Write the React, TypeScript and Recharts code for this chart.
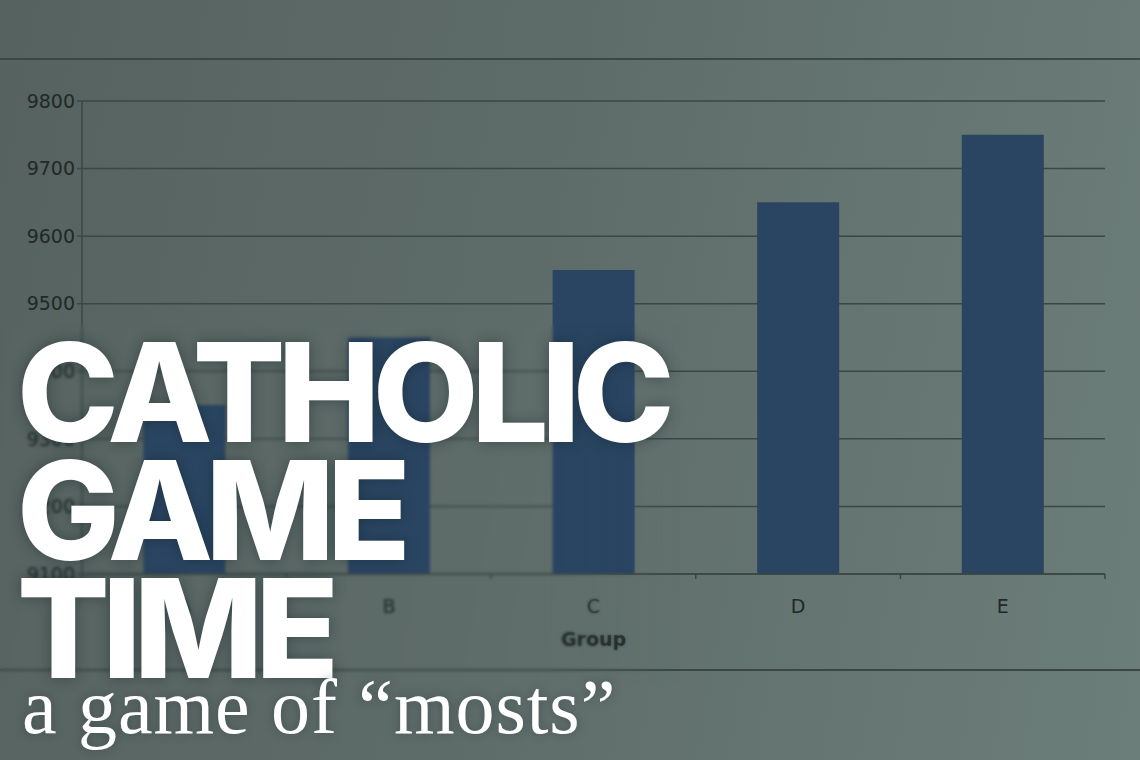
import { BarChart, Bar, XAxis, YAxis, CartesianGrid } from "recharts";

const groups = ["A", "B", "C", "D", "E"];
const values = [9350, 9450, 9550, 9650, 9750];
const yTicks = [9100, 9200, 9300, 9400, 9500, 9600, 9700, 9800];

const data = groups.map((g, i) => ({ group: g, value: values[i] }));

const ink = "#1f2927";
const rule = "#3a4745";

function GroupTick(props: any) {
  const { x, y, payload, index } = props;
  const half = payload?.offset ?? 102.3;
  return (
    <g>
      <line x1={x - half} x2={x - half} y1={y - 8} y2={y - 3} stroke={rule} strokeWidth={1.5} />
      {index === groups.length - 1 && (
        <line x1={x + half} x2={x + half} y1={y - 8} y2={y - 3} stroke={rule} strokeWidth={1.5} />
      )}
      <text x={x} y={y + 31} textAnchor="middle" fill={ink} fontSize={19} fontFamily="DejaVu Sans">
        {payload.value}
      </text>
    </g>
  );
}

export default function App() {
  return (
    <div
      style={{
        position: "absolute",
        left: 0,
        top: 0,
        width: 1140,
        height: 760,
        overflow: "hidden",
        background: "linear-gradient(100deg, #56625f 0%, #5e6c69 45%, #6c7e7a 100%)",
      }}
    >
      <div style={{ position: "absolute", left: 0, right: 0, top: 58, height: 2, background: rule }} />
      <div style={{ position: "absolute", left: 0, right: 0, top: 669, height: 2, background: rule }} />
      <BarChart
        width={1140}
        height={760}
        data={data}
        margin={{ top: 101, right: 35, left: 12, bottom: 106 }}
        barCategoryGap="30%"
      >
        <CartesianGrid vertical={false} stroke={rule} strokeWidth={1.5} />
        <XAxis
          dataKey="group"
          height={80}
          stroke={rule}
          strokeWidth={1.5}
          tickLine={false}
          tick={<GroupTick />}
          label={{
            value: "Group",
            position: "insideBottom",
            offset: 8,
            fill: ink,
            fontSize: 19,
            fontWeight: 700,
            fontFamily: "DejaVu Sans",
          }}
        />
        <YAxis
          width={70}
          domain={[9100, 9800]}
          ticks={yTicks}
          stroke={rule}
          strokeWidth={1.5}
          tickSize={5}
          tick={{ fill: ink, fontSize: 19, fontFamily: "DejaVu Sans" }}
          allowDataOverflow
        />
        <Bar dataKey="value" fill="#2a4562" isAnimationActive={false} />
      </BarChart>
      {/* soft blur behind the title, like the photo */}
      <div
        style={{
          position: "absolute",
          left: 0,
          top: 325,
          width: 680,
          height: 360,
          backdropFilter: "blur(1.6px)",
          WebkitBackdropFilter: "blur(1.6px)",
          maskImage: "linear-gradient(90deg, #000 80%, transparent 100%)",
          WebkitMaskImage: "linear-gradient(90deg, #000 80%, transparent 100%)",
        }}
      />
      <div
        style={{
          position: "absolute",
          left: 17,
          top: 333,
          color: "#ffffff",
          fontFamily: "Inter, 'DejaVu Sans', sans-serif",
          fontWeight: 800,
          fontSize: 137,
          lineHeight: "118px",
          letterSpacing: "-0.055em",
          textShadow: "0 0 14px rgba(20,35,45,0.45)",
        }}
      >
        <div>CATHOLIC</div>
        <div>GAME</div>
        <div>TIME</div>
      </div>
      <div
        style={{
          position: "absolute",
          left: 22,
          top: 662,
          color: "#ffffff",
          fontFamily: "'Liberation Serif', 'DejaVu Serif', serif",
          fontSize: 78,
          lineHeight: "90px",
          letterSpacing: "0.012em",
          textShadow: "0 0 10px rgba(20,35,45,0.35)",
          whiteSpace: "nowrap",
        }}
      >
        a game of “mosts”
      </div>
    </div>
  );
}
